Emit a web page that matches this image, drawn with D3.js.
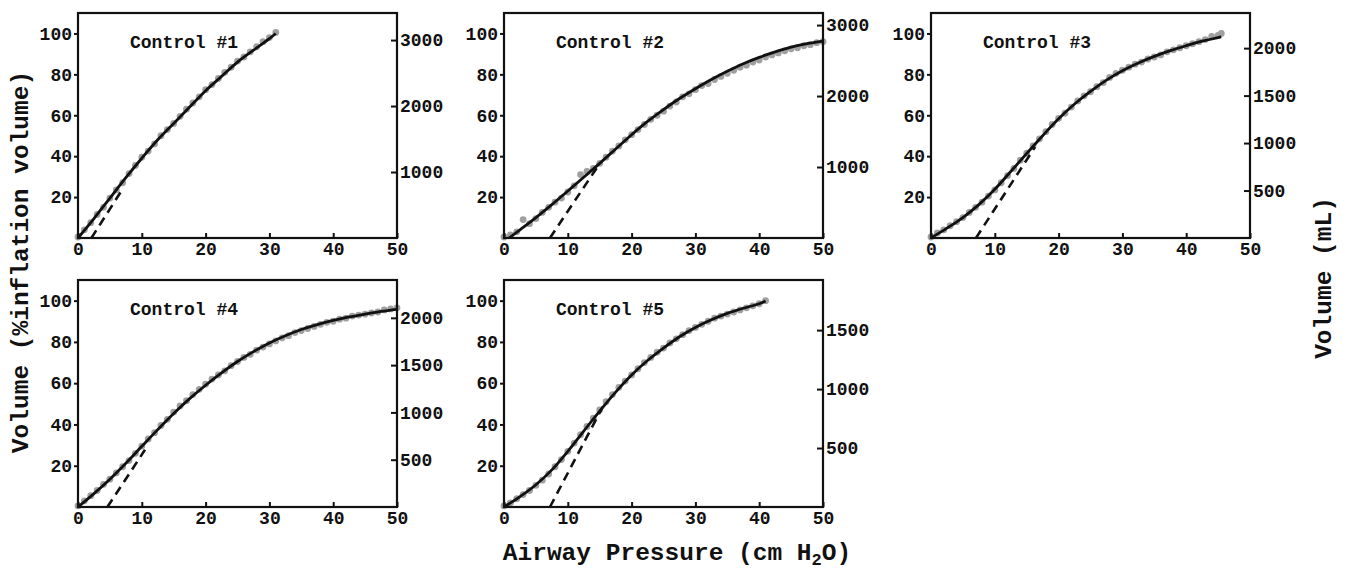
<!DOCTYPE html>
<html>
<head>
<meta charset="utf-8">
<script src="https://cdn.jsdelivr.net/npm/d3@7"></script>
<style>
  body { margin: 0; background: #fff; }
  svg { display: block; }
  text { font-family: "Liberation Mono", "Courier New", monospace; font-weight: bold; fill: #111; }
</style>
</head>
<body>
<div id="chart"></div>
<script>
// panel names
const names = ["Control #1", "Control #2", "Control #3", "Control #4", "Control #5"];

// measured points [pressure, % inflation volume]
const pts1 = [[0,0.5],[1,4],[2,7.5],[3,11.5],[4,15],[5,19.5],[6,23.5],[7,27],[8,31.5],[9,35.5],[10,39.5],[11,42.5],[12,46],[13,50],[14,53],[15,56],[16,59.5],[17,63],[18,66],[19,69],[20,72.5],[21,75],[22,78],[23,81],[24,83.5],[25,86.5],[26,88.5],[27,91],[28,93.5],[29,96],[30,98],[31,100.5]];
const pts2 = [[0,0.5],[1,1.5],[2,3],[3,9],[4,7],[5,9.5],[6,12.5],[7,15],[8,17.5],[9,19.5],[10,22.5],[11,25.5],[12,31],[13,32.5],[14,34],[15,36.5],[16,39.5],[17,42.5],[18,45],[19,48],[20,50.5],[21,53],[22,55.5],[23,58],[24,60],[25,62],[26,64.5],[27,66.5],[28,69],[29,70.5],[30,72.5],[31,74.5],[32,75.5],[33,77.5],[34,79],[35,80.5],[36,82],[37,83.5],[38,84.5],[39,86],[40,87],[41,88.5],[42,89.5],[43,90.5],[44,91.5],[45,92.5],[46,93],[47,94],[48,94.5],[49,95.5],[50,96]];
const pts3 = [[0,0.5],[1,2.5],[2,4],[3,6],[4,8],[5,10],[6,12.5],[7,15],[8,17.5],[9,20.5],[10,23.5],[11,27],[12,30.5],[13,34],[14,38],[15,41.5],[16,45],[17,48.5],[18,52],[19,55.5],[20,58.5],[21,61],[22,64],[23,67],[24,69.5],[25,71.5],[26,74],[27,76],[28,78.5],[29,80.5],[30,82],[31,83.5],[32,85],[33,86],[34,87.5],[35,88.5],[36,89.5],[37,91],[38,92],[39,93],[40,94],[41,95],[42,96],[43,97],[44,98.5],[45,99],[45.5,100]];
const pts4 = [[0,0.5],[1,3],[2,5.5],[3,8],[4,11],[5,13.5],[6,16.5],[7,19.5],[8,22.5],[9,26],[10,29.5],[11,33],[12,36],[13,39.5],[14,42.5],[15,46],[16,49],[17,51.5],[18,54.5],[19,57],[20,59.5],[21,62],[22,64],[23,66],[24,68.5],[25,70.5],[26,72.5],[27,74],[28,76],[29,77.5],[30,79],[31,80.5],[32,82],[33,83],[34,84.5],[35,85.5],[36,86.5],[37,87.5],[38,88.5],[39,89.5],[40,90],[41,91],[42,91.5],[43,92.5],[44,93],[45,93.5],[46,94],[47,94.5],[48,95.5],[49,96],[50,96.5]];
const pts5 = [[0,0.5],[1,2],[2,4],[3,6],[4,8],[5,10.5],[6,13],[7,16],[8,19.5],[9,23],[10,27],[11,31],[12,35],[13,39],[14,43],[15,47],[16,51],[17,54.5],[18,58],[19,61],[20,64],[21,67],[22,70],[23,72.5],[24,75],[25,77],[26,79.5],[27,81.5],[28,83.5],[29,85.5],[30,87],[31,88.5],[32,90],[33,91.5],[34,92.5],[35,93.5],[36,94.5],[37,95.5],[38,96.5],[39,97.5],[40,98.5],[41,100]];

// fitted curves
const fit1 = [[0,0],[2.5,9.5],[5,19.5],[7.5,29.5],[10,39],[12.5,48],[15,56],[17.5,64],[20,72],[22.5,79],[25,86],[27.5,91.8],[30,97.5],[31,100]];
const fit2 = [[0.8,0],[2.5,4],[5,10],[7.5,16.3],[10,23],[12.5,29.7],[15,36.5],[17.5,43.5],[20,50.5],[22.5,57],[25,62.8],[27.5,68.2],[30,73],[32.5,77.5],[35,81.5],[37.5,85.2],[40,88.3],[42.5,91],[45,93.3],[47.5,95],[50,96.3]];
const fit3 = [[0,0],[2.5,4.8],[5,10],[7.5,16.3],[10,23.8],[12.5,32.5],[15,41.3],[17.5,50],[20,58.3],[22.5,65.5],[25,71.7],[27.5,77.2],[30,81.8],[32.5,85.6],[35,88.8],[37.5,91.6],[40,94],[42.5,96.2],[45,98],[45.5,98.3]];
const fit4 = [[0,0],[2.5,6.5],[5,13.5],[7.5,21.2],[10,29.4],[12.5,37.5],[15,45.3],[17.5,52.5],[20,59],[22.5,65],[25,70.5],[27.5,75.3],[30,79.5],[32.5,83],[35,86],[37.5,88.4],[40,90.4],[42.5,92.1],[45,93.5],[47.5,94.8],[50,95.8]];
const fit5 = [[0,0],[2.5,5],[5,10.8],[7.5,18],[10,27],[12.5,36.8],[15,46.5],[17.5,55.7],[20,64],[22.5,71],[25,77],[27.5,82.5],[30,87],[32.5,90.7],[35,93.8],[37.5,96.3],[40,98.5],[41,99.8]];

// dashed tangent lines
const dash1 = [[2.1,0],[7,24]];
const dash2 = [[7.2,0],[14.7,35]];
const dash3 = [[7.05,0],[16.3,44.5]];
const dash4 = [[4.6,0],[10.5,27.7]];
const dash5 = [[7.2,0],[15.5,48.7]];

// axes
const xTicks = [0, 10, 20, 30, 40, 50];
const yTicks = [20, 40, 60, 80, 100];
const mLMax = [3410, 3170, 2370, 2400, 1925];
const mLTicks = [[1000, 2000, 3000], [1000, 2000, 3000], [500, 1000, 1500, 2000], [500, 1000, 1500, 2000], [500, 1000, 1500]];

const width = 1347, height = 570;
const svg = d3.select("#chart").append("svg")
  .attr("width", width)
  .attr("height", height);

const boxes = [
  { left: 78,  top: 13,  h: 225 },
  { left: 504, top: 13,  h: 225 },
  { left: 931, top: 13,  h: 225 },
  { left: 78,  top: 280, h: 227 },
  { left: 504, top: 280, h: 227 }
];
const allPts = [pts1, pts2, pts3, pts4, pts5];
const allFits = [fit1, fit2, fit3, fit4, fit5];
const allDash = [dash1, dash2, dash3, dash4, dash5];
const boxW = 319;

boxes.forEach((b, i) => {
  const g = svg.append("g").attr("transform", `translate(${b.left},${b.top})`);
  const x = d3.scaleLinear().domain([0, 50]).range([0, boxW]);
  const y = d3.scaleLinear().domain([0, 110]).range([b.h, 0]);
  const yr = d3.scaleLinear().domain([0, mLMax[i]]).range([b.h, 0]);

  const line = d3.line().x(d => x(d[0])).y(d => y(d[1]));

  // points
  g.append("g").selectAll("circle")
    .data(allPts[i])
    .enter().append("circle")
    .attr("cx", d => x(d[0]))
    .attr("cy", d => y(d[1]))
    .attr("r", 3.4)
    .attr("fill", "#a0a0a0");

  // dashed line
  g.append("path")
    .datum(allDash[i])
    .attr("d", line)
    .attr("fill", "none")
    .attr("stroke", "#111")
    .attr("stroke-width", 2.6)
    .attr("stroke-dasharray", "9,6");

  // fit curve
  g.append("path")
    .datum(allFits[i])
    .attr("d", d3.line().x(d => x(d[0])).y(d => y(d[1])).curve(d3.curveCatmullRom))
    .attr("fill", "none")
    .attr("stroke", "#111")
    .attr("stroke-width", 2.8);

  // axes
  const xa = g.append("g").attr("transform", `translate(0,${b.h})`)
    .call(d3.axisBottom(x).tickValues(xTicks).tickSizeInner(-5).tickSizeOuter(0).tickPadding(4));
  const ya = g.append("g")
    .call(d3.axisLeft(y).tickValues(yTicks).tickSizeInner(4).tickSizeOuter(0).tickPadding(2));
  const ra = g.append("g").attr("transform", `translate(${boxW},0)`)
    .call(d3.axisRight(yr).tickValues(mLTicks[i]).tickFormat(d3.format("d"))
      .tickSizeInner(-6).tickSizeOuter(0).tickPadding(3));

  [xa, ya, ra].forEach(a => {
    a.select(".domain").remove();
    a.selectAll("line").attr("stroke", "#111").attr("stroke-width", 2);
    a.selectAll("text")
      .attr("font-size", 18)
      .attr("font-family", '"Liberation Mono", "Courier New", monospace')
      .attr("font-weight", "bold")
      .attr("fill", "#111");
  });

  // frame
  g.append("rect")
    .attr("width", boxW)
    .attr("height", b.h)
    .attr("fill", "none")
    .attr("stroke", "#111")
    .attr("stroke-width", 2.2);

  g.append("text")
    .attr("x", 52)
    .attr("y", 35)
    .attr("font-size", 18)
    .text(names[i]);
});

// axis titles
svg.append("text")
  .attr("transform", "translate(28,262) rotate(-90)")
  .attr("text-anchor", "middle")
  .attr("font-size", 24.5)
  .text("Volume (%inflation volume)");

svg.append("text")
  .attr("transform", "translate(1331,278) rotate(-90)")
  .attr("text-anchor", "middle")
  .attr("font-size", 24.5)
  .text("Volume (mL)");

const xt = svg.append("text")
  .attr("x", 677)
  .attr("y", 560)
  .attr("text-anchor", "middle")
  .attr("font-size", 24.5);
xt.append("tspan").text("Airway Pressure (cm H");
xt.append("tspan").attr("font-size", 17).attr("dy", 5).text("2");
xt.append("tspan").attr("dy", -5).text("O)");
</script>
</body>
</html>
